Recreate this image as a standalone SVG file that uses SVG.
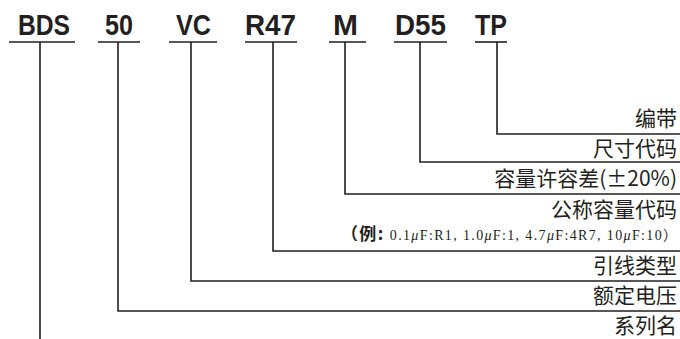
<svg xmlns="http://www.w3.org/2000/svg" width="680" height="339" viewBox="0 0 680 339">
<style>
.code{font-family:"Liberation Sans",Arial,sans-serif;font-weight:bold;font-size:30px;fill:#231f20}
.lbl{font-family:"Noto Sans CJK SC","Noto Sans",sans-serif;font-size:21px;fill:#231f20;text-anchor:end}
.ex{font-family:"Liberation Serif","Noto Sans CJK SC",serif;font-size:14px;fill:#231f20}
.exb{font-family:"Noto Sans CJK SC",sans-serif;font-weight:bold;font-size:17px}
.ln{stroke:#231f20;stroke-width:1.6;fill:none}
</style>
<rect width="680" height="339" fill="#fff"/>
<g id="code-BDS"><text class="code" x="18" y="35" textLength="52" lengthAdjust="spacingAndGlyphs">BDS</text><line class="ln" x1="9" y1="42" x2="75" y2="42"/></g>
<g id="code-50"><text class="code" x="105" y="35" textLength="28" lengthAdjust="spacingAndGlyphs">50</text><line class="ln" x1="98" y1="42" x2="140" y2="42"/></g>
<g id="code-VC"><text class="code" x="176" y="35" textLength="35" lengthAdjust="spacingAndGlyphs">VC</text><line class="ln" x1="169" y1="42" x2="217" y2="42"/></g>
<g id="code-R47"><text class="code" x="245" y="35" textLength="51" lengthAdjust="spacingAndGlyphs">R47</text><line class="ln" x1="245" y1="42" x2="297" y2="42"/></g>
<g id="code-M"><text class="code" x="333" y="35" textLength="25" lengthAdjust="spacingAndGlyphs">M</text><line class="ln" x1="329" y1="42" x2="366" y2="42"/></g>
<g id="code-D55"><text class="code" x="395" y="35" textLength="51" lengthAdjust="spacingAndGlyphs">D55</text><line class="ln" x1="394" y1="42" x2="447" y2="42"/></g>
<g id="code-TP"><text class="code" x="475" y="35" textLength="32" lengthAdjust="spacingAndGlyphs">TP</text><line class="ln" x1="475" y1="42" x2="507" y2="42"/></g>
<g id="connectors">
<polyline class="ln" points="497,42 497,134 680,134"/>
<polyline class="ln" points="420,42 420,162 680,162"/>
<polyline class="ln" points="345,42 345,194 680,194"/>
<polyline class="ln" points="273,42 273,251 680,251"/>
<polyline class="ln" points="191,42 191,281 680,281"/>
<polyline class="ln" points="118,42 118,311 680,311"/>
<line class="ln" x1="40" y1="42" x2="40" y2="339"/>
</g>
<g id="label-TP"><text class="lbl" x="677" y="126">编带</text></g>
<g id="label-D55"><text class="lbl" x="677" y="155.5">尺寸代码</text></g>
<g id="label-M"><text class="lbl" x="677" y="185.5">容量许容差(±20%)</text></g>
<g id="label-R47"><text class="lbl" x="677" y="217">公称容量代码</text>
<text class="ex" x="341" y="240" textLength="336" lengthAdjust="spacing"><tspan class="exb">（例: </tspan>0.1<tspan font-style="italic">μ</tspan>F:R1,  1.0<tspan font-style="italic">μ</tspan>F:1,  4.7<tspan font-style="italic">μ</tspan>F:4R7,  10<tspan font-style="italic">μ</tspan>F:10）</text></g>
<g id="label-VC"><text class="lbl" x="677" y="273">引线类型</text></g>
<g id="label-50"><text class="lbl" x="677" y="303">额定电压</text></g>
<g id="label-BDS"><text class="lbl" x="677" y="333">系列名</text></g>
</svg>
